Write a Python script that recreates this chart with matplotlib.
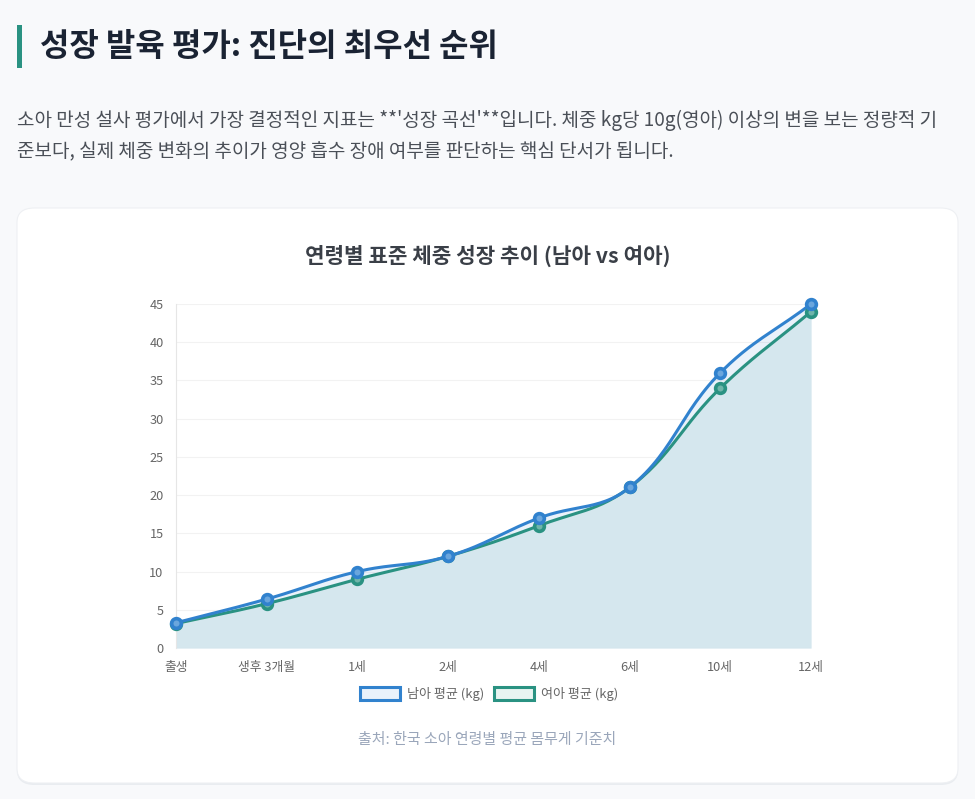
import numpy as np
import matplotlib
matplotlib.use("Agg")
import matplotlib.pyplot as plt
from matplotlib.patches import FancyBboxPatch, Rectangle

plt.rcParams['font.family'] = ['Noto Sans CJK KR', 'DejaVu Sans']

# --- data ---
ages = ['출생', '생후 3개월', '1세', '2세', '4세', '6세', '10세', '12세']
boys = [3.3, 6.4, 10, 12, 17, 21, 36, 45]
girls = [3.2, 5.8, 9, 12, 16, 21, 34, 44]
y_ticks = [0, 5, 10, 15, 20, 25, 30, 35, 40, 45]

W, H = 975, 799
BOY_C = '#3182ce'
GIRL_C = '#2a9282'


def fx(x):
    return x / W


def fy(y):
    return 1 - y / H


def spline(xs, ys, sx=90.7, sy=7.64, t=0.4, n=30):
    """chart.js style bezier (tension 0.4), computed in pixel-ish space"""
    px = np.array(xs, float) * sx
    py = np.array(ys, float) * sy
    m = len(px)
    cp_prev = np.zeros((m, 2))
    cp_next = np.zeros((m, 2))
    for i in range(m):
        p0 = np.array([px[max(i - 1, 0)], py[max(i - 1, 0)]])
        p1 = np.array([px[i], py[i]])
        p2 = np.array([px[min(i + 1, m - 1)], py[min(i + 1, m - 1)]])
        d01 = np.hypot(*(p1 - p0))
        d12 = np.hypot(*(p2 - p1))
        tot = d01 + d12
        s01 = d01 / tot if tot else 0
        s12 = d12 / tot if tot else 0
        cp_prev[i] = p1 - t * s01 * (p2 - p0)
        cp_next[i] = p1 + t * s12 * (p2 - p0)
    out_x, out_y = [], []
    u = np.linspace(0, 1, n)[:, None]
    for i in range(m - 1):
        a = np.array([px[i], py[i]])
        b = cp_next[i]
        c = cp_prev[i + 1]
        d = np.array([px[i + 1], py[i + 1]])
        seg = (1 - u) ** 3 * a + 3 * (1 - u) ** 2 * u * b + 3 * (1 - u) * u ** 2 * c + u ** 3 * d
        out_x.extend(seg[:, 0] / sx)
        out_y.extend(seg[:, 1] / sy)
    return np.array(out_x), np.array(out_y)


fig = plt.figure(figsize=(W / 100, H / 100), dpi=100)
fig.patch.set_facecolor('#f8f9fb')

# heading
fig.patches.append(Rectangle((fx(17), fy(68)), 5 / W, 43 / H, transform=fig.transFigure,
                             facecolor='#2a9282', edgecolor='none', zorder=-1))
fig.text(fx(40), fy(47), '성장 발육 평가: 진단의 최우선 순위', fontsize=23, fontweight='bold',
         color='#1a2333', va='center', ha='left')
fig.text(fx(17), fy(120), "소아 만성 설사 평가에서 가장 결정적인 지표는 **'성장 곡선'**입니다. 체중 kg당 10g(영아) 이상의 변을 보는 정량적 기",
         fontsize=13.7, color='#4a4f57', va='center', ha='left')
fig.text(fx(17), fy(152), "준보다, 실제 체중 변화의 추이가 영양 흡수 장애 여부를 판단하는 핵심 단서가 됩니다.",
         fontsize=13.7, color='#4a4f57', va='center', ha='left')

# card
shadow = FancyBboxPatch((fx(17), fy(785)), 941 / W, 575 / H, boxstyle='round,pad=0,rounding_size=0.018',
                        transform=fig.transFigure, facecolor='#e9ecf0', edgecolor='none', zorder=-3)
card = FancyBboxPatch((fx(17), fy(783)), 941 / W, 575 / H, boxstyle='round,pad=0,rounding_size=0.018',
                      transform=fig.transFigure, facecolor='white', edgecolor='#eef0f3', linewidth=0.8,
                      zorder=-2)
fig.patches.append(shadow)
fig.patches.append(card)

fig.text(0.5, fy(256), '연령별 표준 체중 성장 추이 (남아 vs 여아)', fontsize=15.3, fontweight='bold',
         color='#3a3f47', ha='center', va='center')

ax = fig.add_axes([fx(176), fy(648), 635 / W, 344 / H])
ax.set_facecolor('none')
x = np.arange(len(ages))

bx, by = spline(x, boys)
gx, gy = spline(x, girls)
ax.fill_between(bx, 0, by, color='#eaf2fa', zorder=1, linewidth=0)
ax.fill_between(gx, 0, gy, color='#d5e7ee', zorder=2, linewidth=0)
ax.plot(bx, by, color=BOY_C, lw=2.2, zorder=4)
ax.plot(gx, gy, color=GIRL_C, lw=2.2, zorder=3)
ax.plot(x, boys, 'o', ms=7, mfc='#6aa6dd', mec=BOY_C, mew=2.6, zorder=6, clip_on=False)
ax.plot(x, girls, 'o', ms=7, mfc='#6fb5aa', mec=GIRL_C, mew=2.6, zorder=5, clip_on=False)

ax.set_xlim(0, len(ages) - 1)
ax.set_ylim(0, 45)
ax.set_xticks(x)
ax.set_xticklabels(ages)
ax.set_yticks(y_ticks)
ax.grid(axis='y', color='black', alpha=0.05, lw=0.8, zorder=2.5)
ax.tick_params(axis='both', length=0, labelsize=9.2, colors='#666666', pad=9)
for s in ['top', 'right', 'bottom']:
    ax.spines[s].set_visible(False)
ax.spines['left'].set_color('#e6e6e6')
ax.axhline(0, color='#c9dbe6', lw=0.8, zorder=2.6)

# legend
fig.patches.append(Rectangle((fx(360), fy(700)), 40 / W, 13 / H, transform=fig.transFigure,
                             facecolor='#e9f2fb', edgecolor=BOY_C, linewidth=2.2))
fig.text(fx(407), fy(694), '남아 평균 (kg)', fontsize=9.4, color='#666666', va='center', ha='left')
fig.patches.append(Rectangle((fx(494), fy(700)), 40 / W, 13 / H, transform=fig.transFigure,
                             facecolor='#e8f4f1', edgecolor=GIRL_C, linewidth=2.2))
fig.text(fx(541), fy(694), '여아 평균 (kg)', fontsize=9.4, color='#666666', va='center', ha='left')

fig.text(0.5, fy(740), '출처: 한국 소아 연령별 평균 몸무게 기준치', fontsize=10.75, color='#9aa6ba',
         ha='center', va='center', style='italic')

fig.savefig('out.png', dpi=100, facecolor=fig.get_facecolor())
